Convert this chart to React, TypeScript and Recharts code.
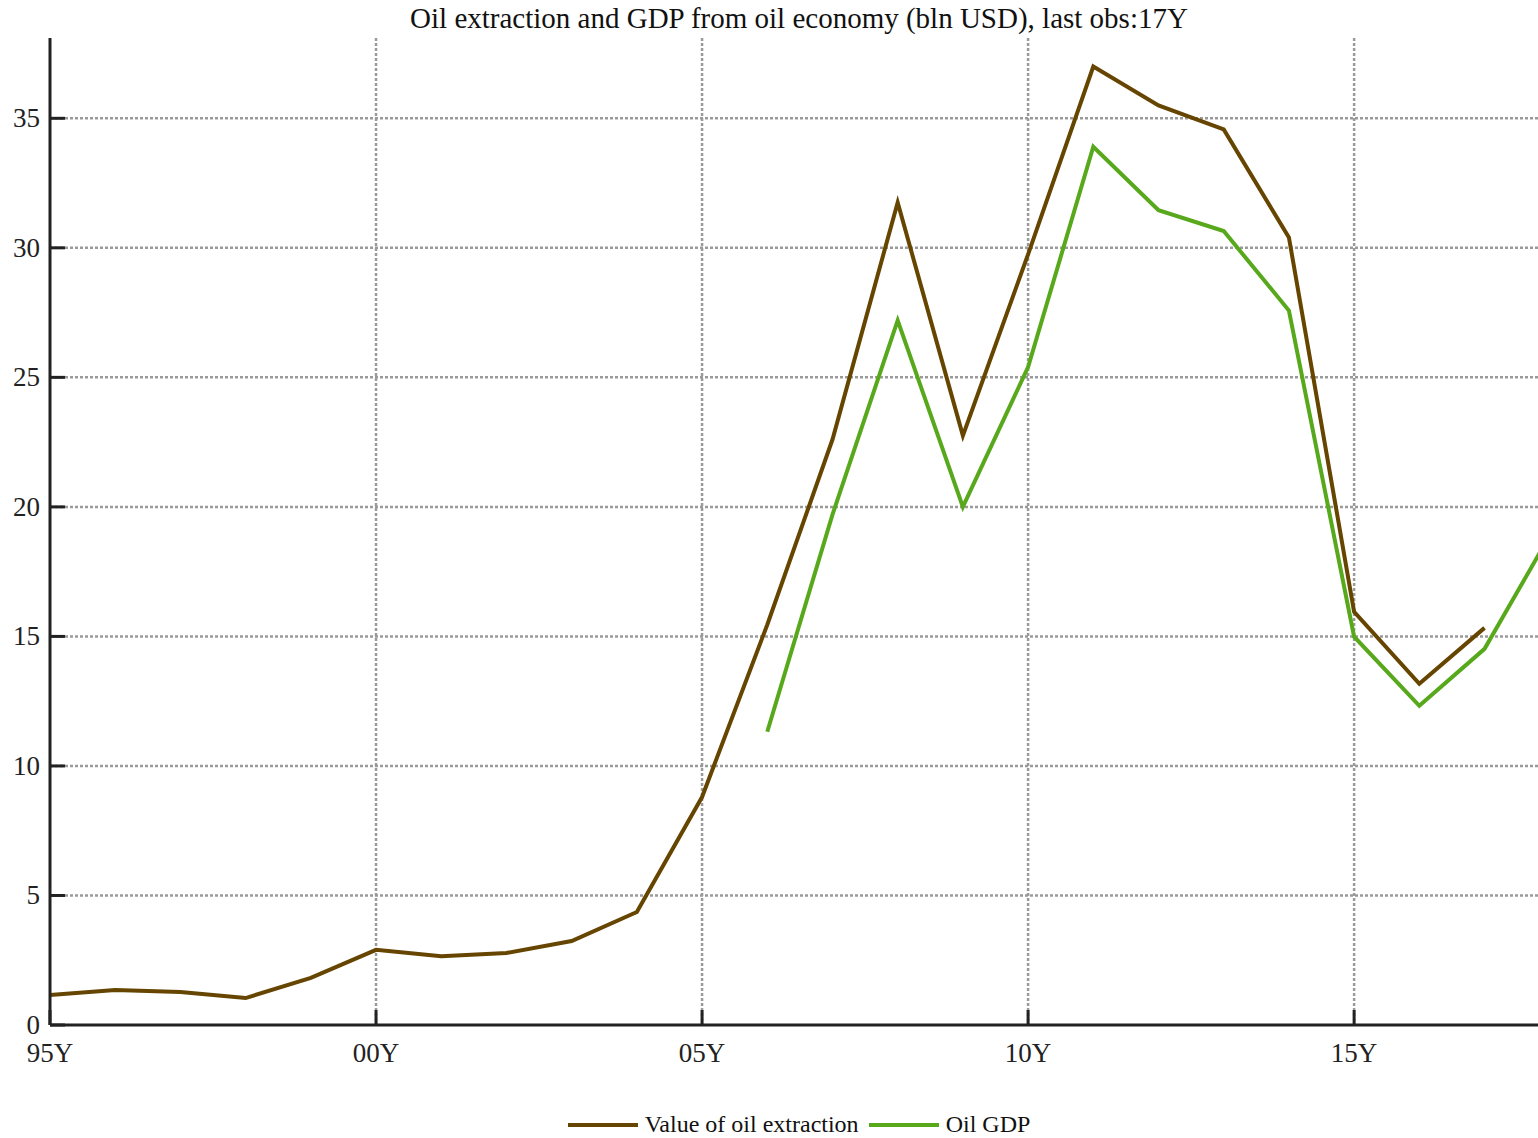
import { LineChart, Line, XAxis, YAxis, CartesianGrid, Legend } from 'recharts';

const years = [1995, 1996, 1997, 1998, 1999, 2000, 2001, 2002, 2003, 2004, 2005, 2006, 2007, 2008, 2009, 2010, 2011, 2012, 2013, 2014, 2015, 2016, 2017, 2018];
const oilExtraction = [1.16, 1.35, 1.27, 1.04, 1.82, 2.9, 2.65, 2.78, 3.24, 4.36, 8.8, 15.45, 22.6, 31.75, 22.75, 29.75, 37.0, 35.5, 34.57, 30.4, 15.95, 13.17, 15.33, null];
const oilGdp = [null, null, null, null, null, null, null, null, null, null, null, 11.32, 19.7, 27.2, 20.0, 25.4, 33.9, 31.45, 30.65, 27.58, 14.99, 12.32, 14.52, 18.9];

const xTicks = [1995, 2000, 2005, 2010, 2015];
const yTicks = [0, 5, 10, 15, 20, 25, 30, 35];

const BROWN = '#654500';
const GREEN = '#58a81c';
const FONT = '"Liberation Serif", "Times New Roman", serif';

const data = years.map((y, i) => ({ year: y, extraction: oilExtraction[i], gdp: oilGdp[i] }));

const XTick = (props: any) => {
  const { x, y, payload } = props;
  const yy = String(payload.value % 100).padStart(2, '0') + 'Y';
  return (
    <g>
      <line x1={x} y1={y} x2={x} y2={y - 15} stroke="#222" strokeWidth={3} />
      <text x={x} y={y + 37} textAnchor="middle" fontSize={27} fontFamily={FONT} fill="#222">{yy}</text>
    </g>
  );
};

const YTick = (props: any) => {
  const { x, y, payload } = props;
  return (
    <g>
      <line x1={x} y1={y} x2={x + 15} y2={y} stroke="#222" strokeWidth={3} />
      <text x={x - 10} y={y + 9} textAnchor="end" fontSize={27} fontFamily={FONT} fill="#222">{payload.value}</text>
    </g>
  );
};

const renderLegend = () => (
  <div style={{ display: 'flex', justifyContent: 'center', alignItems: 'center', fontFamily: FONT, fontSize: 24, color: '#111', paddingLeft: 60 }}>
    <span style={{ display: 'inline-block', width: 70, height: 4, background: BROWN, marginRight: 7 }} />
    <span style={{ marginRight: 10 }}>Value of oil extraction</span>
    <span style={{ display: 'inline-block', width: 70, height: 4, background: GREEN, marginRight: 7 }} />
    <span>Oil GDP</span>
  </div>
);

export default function App() {
  return (
    <div style={{ position: 'absolute', left: 0, top: 0, width: 1538, height: 1138, background: '#fff' }}>
      <div style={{ position: 'absolute', left: 0, width: 1598, top: 2, textAlign: 'center', fontFamily: FONT, fontSize: 29, color: '#111' }}>
        Oil extraction and GDP from oil economy (bln USD), last obs:17Y
      </div>
      <LineChart width={1538} height={1138} data={data} margin={{ top: 38, right: 0, left: 0, bottom: 0 }}>
        <CartesianGrid stroke="#9a9a9a" strokeWidth={2.5} strokeDasharray="3 2" horizontalValues={yTicks.slice(1)} verticalValues={xTicks.slice(1)} />
        <XAxis
          dataKey="year"
          type="number"
          domain={[1995, 2017.82]}
          allowDataOverflow
          ticks={xTicks}
          tick={<XTick />}
          tickLine={false}
          tickSize={0}
          tickMargin={0}
          height={86}
          axisLine={{ stroke: '#222', strokeWidth: 3 }}
          interval={0}
        />
        <YAxis
          type="number"
          domain={[0, 38.1]}
          allowDataOverflow
          ticks={yTicks}
          tick={<YTick />}
          tickLine={false}
          tickSize={0}
          tickMargin={0}
          width={50}
          axisLine={{ stroke: '#222', strokeWidth: 3 }}
          interval={0}
        />
        <Legend content={renderLegend} verticalAlign="bottom" wrapperStyle={{ bottom: 0 }} />
        <Line dataKey="extraction" stroke={BROWN} strokeWidth={4} dot={false} isAnimationActive={false} connectNulls={false} />
        <Line dataKey="gdp" stroke={GREEN} strokeWidth={4} dot={false} isAnimationActive={false} connectNulls={false} />
      </LineChart>
    </div>
  );
}
